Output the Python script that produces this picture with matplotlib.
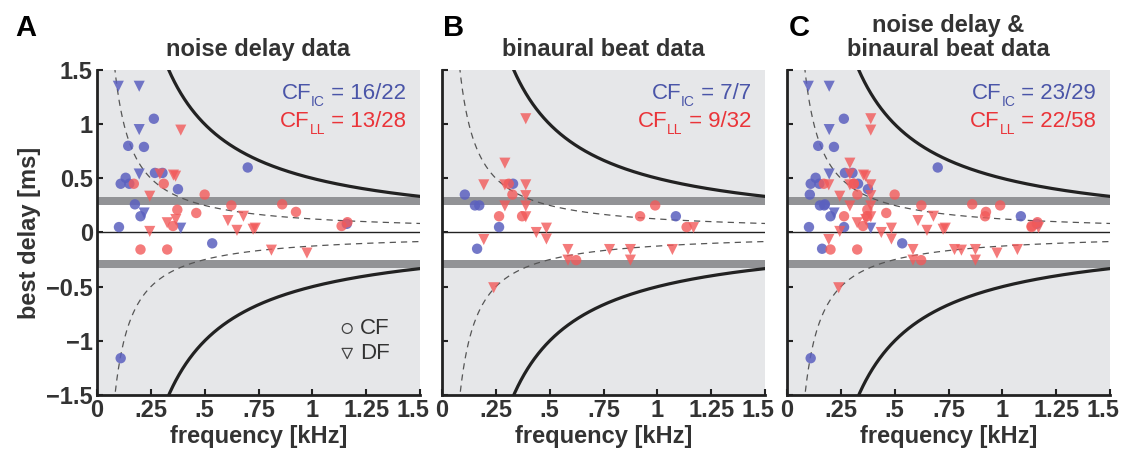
import numpy as np
import matplotlib.pyplot as plt
from matplotlib.transforms import ScaledTranslation

plt.rcParams['font.family'] = ['Liberation Sans', 'DejaVu Sans']

# --- noise delay data (panel A) ---
nd_ic_cf_x = [0.264, 0.145, 0.218, 0.70, 0.269, 0.304, 0.133, 0.11, 0.15, 0.376, 0.176, 0.202, 0.102, 0.535, 0.11, 1.16]
nd_ic_cf_y = [1.05, 0.80, 0.79, 0.60, 0.55, 0.55, 0.505, 0.45, 0.45, 0.40, 0.26, 0.15, 0.05, -0.10, -1.16, 0.08]
nd_ic_df_x = [0.099, 0.196, 0.196, 0.196, 0.219, 0.389]
nd_ic_df_y = [1.35, 1.35, 0.95, 0.54, 0.18, 0.04]
nd_ll_cf_x = [0.171, 0.31, 0.50, 0.624, 0.373, 0.461, 0.353, 0.202, 0.326, 0.86, 0.924, 1.136, 1.163]
nd_ll_cf_y = [0.45, 0.45, 0.35, 0.25, 0.21, 0.18, 0.06, -0.157, -0.157, 0.26, 0.19, 0.06, 0.095]
nd_ll_df_x = [0.389, 0.292, 0.355, 0.365, 0.245, 0.608, 0.68, 0.326, 0.366, 0.245, 0.65, 0.725, 0.735, 0.81, 0.975]
nd_ll_df_y = [0.945, 0.54, 0.53, 0.52, 0.335, 0.11, 0.15, 0.09, 0.12, 0.01, 0.02, 0.03, 0.04, -0.163, -0.19]

# --- binaural beat data (panel B) ---
bb_ic_cf_x = [0.33, 0.106, 0.153, 0.173, 1.086, 0.265, 0.163]
bb_ic_cf_y = [0.45, 0.35, 0.25, 0.25, 0.15, 0.05, -0.15]
bb_ic_df_x = []
bb_ic_df_y = []
bb_ll_cf_x = [0.31, 0.327, 0.99, 0.265, 0.372, 0.92, 1.136, 0.623]
bb_ll_cf_y = [0.45, 0.35, 0.25, 0.15, 0.15, 0.15, 0.05, -0.255]
bb_ll_df_x = [0.389, 0.292, 0.194, 0.292, 0.389, 0.389, 0.292, 0.389, 0.389, 0.485, 0.438,
              1.168, 0.194, 0.485, 0.585, 0.778, 0.875, 1.07, 0.585, 0.875, 0.24]
bb_ll_df_y = [1.05, 0.64, 0.44, 0.44, 0.44, 0.34, 0.245, 0.245, 0.145, 0.04, 0.0,
              0.045, -0.065, -0.06, -0.157, -0.157, -0.157, -0.157, -0.255, -0.255, -0.51]

titles = ['noise delay data', 'binaural beat data', 'noise delay &\nbinaural beat data']
panel_letters = ['A', 'B', 'C']
ic_counts = ['16/22', '7/7', '23/29']
ll_counts = ['13/28', '9/32', '22/58']

xticks = [0, 0.25, 0.5, 0.75, 1, 1.25, 1.5]
xticklabels = ['0', '.25', '.5', '.75', '1', '1.25', '1.5']
yticks = [-1.5, -1, -0.5, 0, 0.5, 1, 1.5]
yticklabels = ['\u22121.5', '\u22121', '\u22120.5', '0', '0.5', '1', '1.5']

BLUE = '#5b60bf'
RED = '#f25a5a'
BLUE_TXT = '#4a55a8'
RED_TXT = '#ea3439'
DARK = '#333333'
BG = '#e6e7e9'
BAND = '#929396'

fig = plt.figure(figsize=(11.36, 4.58), dpi=100)
renderer = fig.canvas.get_renderer()
W, H = 1136, 458
lefts = [97, 442, 787]
letter_x = [15, 443, 789]

panels = [
    (nd_ic_cf_x, nd_ic_cf_y, nd_ic_df_x, nd_ic_df_y, nd_ll_cf_x, nd_ll_cf_y, nd_ll_df_x, nd_ll_df_y),
    (bb_ic_cf_x, bb_ic_cf_y, bb_ic_df_x, bb_ic_df_y, bb_ll_cf_x, bb_ll_cf_y, bb_ll_df_x, bb_ll_df_y),
]
# combined panel C = A + B
panels.append(tuple(a + b for a, b in zip(panels[0], panels[1])))

f = np.linspace(0.02, 1.6, 800)


def count_label(ax, x, y, sub, val, color):
    """Draw 'CF_sub = val' right-aligned at (x, y) with a dropped subscript."""
    t1 = ax.text(x, y, ' = ' + val, fontsize=16, color=color, ha='right', va='baseline', zorder=5)
    w1 = t1.get_window_extent(renderer).width
    t2 = ax.annotate(sub, (x, y), xytext=(-w1, -7), textcoords='offset pixels', fontsize=10,
                     color=color, ha='right', va='baseline', zorder=5)
    w2 = t2.get_window_extent(renderer).width
    ax.annotate('CF', (x, y), xytext=(-w1 - w2, 0), textcoords='offset pixels', fontsize=16,
                color=color, ha='right', va='baseline', zorder=5)


for k in range(3):
    ax = fig.add_axes([lefts[k] / W, 1 - 395 / H, 323 / W, 325 / H])
    ax.set_facecolor(BG)
    ax.set_xlim(0, 1.5)
    ax.set_ylim(-1.5, 1.5)

    ax.axhspan(-0.25, 0.25, color='white', zorder=0.5, lw=0)
    ax.axhspan(0.25, 0.33, color=BAND, zorder=0.6, lw=0)
    ax.axhspan(-0.33, -0.25, color=BAND, zorder=0.6, lw=0)
    ax.axhline(0, color='#222222', lw=1.0, zorder=1)

    # half-period limit (solid) and pi/4 limit (dashed)
    ax.plot(f, 0.5 / f, color='#222222', lw=2.3, zorder=1.5)
    ax.plot(f, -0.5 / f, color='#222222', lw=2.3, zorder=1.5)
    ax.plot(f, 0.125 / f, color='#555555', lw=0.9, ls=(0, (5, 4)), zorder=1.5)
    ax.plot(f, -0.125 / f, color='#555555', lw=0.9, ls=(0, (5, 4)), zorder=1.5)

    icx, icy, idx, idy, lcx, lcy, ldx, ldy = panels[k]
    ax.scatter(icx, icy, s=56, marker='o', color=BLUE, alpha=0.85, edgecolors='none', zorder=3)
    ax.scatter(idx, idy, s=64, marker='v', color=BLUE, alpha=0.85, edgecolors='none', zorder=3)
    ax.scatter(lcx, lcy, s=56, marker='o', color=RED, alpha=0.8, edgecolors='none', zorder=3)
    ax.scatter(ldx, ldy, s=64, marker='v', color=RED, alpha=0.8, edgecolors='none', zorder=3)

    for side in ['top', 'right']:
        ax.spines[side].set_visible(False)
    for side in ['left', 'bottom']:
        ax.spines[side].set_linewidth(2)
        ax.spines[side].set_color('#222222')
        ax.spines[side].set_zorder(4)

    ax.set_xticks(xticks)
    ax.set_xticklabels(xticklabels)
    ax.set_yticks(yticks)
    if k == 0:
        ax.set_yticklabels(yticklabels)
        ax.set_ylabel('best delay [ms]', fontsize=17, fontweight='bold', color=DARK, labelpad=4)
    else:
        ax.set_yticklabels([])
    ax.tick_params(direction='in', length=4, width=1.5, color='#222222',
                   labelsize=17, labelcolor=DARK, pad=3)
    for lab in ax.get_xticklabels() + ax.get_yticklabels():
        lab.set_fontweight('bold')
    # last x label sits a little left of its tick, as in the original
    last = ax.get_xticklabels()[-1]
    last.set_transform(last.get_transform() + ScaledTranslation(-7 / 100, 0, fig.dpi_scale_trans))
    ax.set_xlabel('frequency [kHz]', fontsize=17, fontweight='bold', color=DARK, labelpad=2)

    ax.set_title(titles[k], fontsize=17, fontweight='bold', color=DARK, pad=10, linespacing=1.05)
    fig.text(letter_x[k] / W, 1 - 36 / H, panel_letters[k], fontsize=21,
             fontweight='bold', color='black', ha='left', va='baseline')

    count_label(ax, 1.435, 1.23, 'IC', ic_counts[k], BLUE_TXT)
    count_label(ax, 1.435, 0.97, 'LL', ll_counts[k], RED_TXT)

    if k == 0:
        ax.scatter([1.162], [-0.886], s=50, marker='o', facecolors='none', edgecolors='#444444', lw=0.9, zorder=5)
        ax.scatter([1.162], [-1.117], s=54, marker='v', facecolors='none', edgecolors='#444444', lw=0.9, zorder=5)
        ax.text(1.22, -0.886, 'CF', fontsize=16, color=DARK, va='center', ha='left')
        ax.text(1.22, -1.117, 'DF', fontsize=16, color=DARK, va='center', ha='left')

fig.savefig('out.png', dpi=100)
